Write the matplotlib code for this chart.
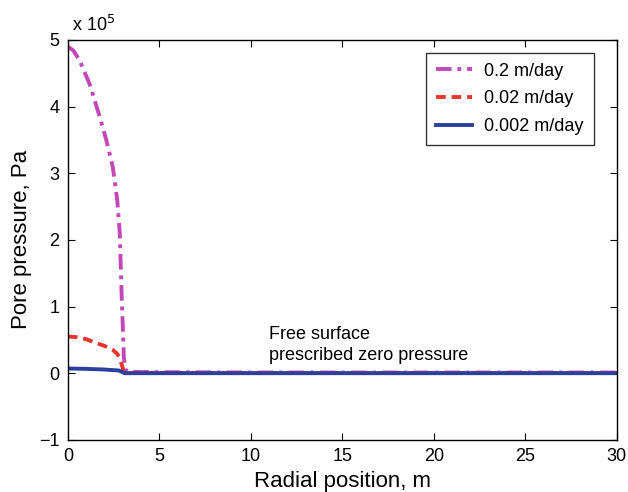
import matplotlib
matplotlib.use("Agg")
import matplotlib.pyplot as plt
import numpy as np

plt.rcParams['font.family'] = ['Liberation Sans', 'DejaVu Sans']

# Radial position (m) and pore pressure (Pa)
r_fast = [0.0, 0.3, 0.65, 1.2, 1.75, 2.1, 2.46, 2.7, 2.84, 2.95, 3.02, 3.06, 3.15, 3.3, 5, 10, 15, 20, 25, 30]
p_fast = [4.90e5, 4.84e5, 4.69e5, 4.33e5, 3.84e5, 3.5e5, 3.09e5, 2.6e5, 2.1e5, 1.1e5, 0.6e5, 0.24e5, 0.05e5, 0.02e5, 0.015e5, 0.01e5, 0.01e5, 0.01e5, 0.01e5, 0.01e5]

r_mid = [0.0, 0.5, 1.0, 1.58, 2.0, 2.46, 2.7, 2.84, 3.0, 3.1, 5, 10, 15, 20, 25, 30]
p_mid = [0.55e5, 0.54e5, 0.51e5, 0.45e5, 0.41e5, 0.35e5, 0.29e5, 0.22e5, 0.08e5, 0.005e5, 0.003e5, 0.002e5, 0.002e5, 0.002e5, 0.002e5, 0.002e5]

r_slow = [0.0, 1.0, 2.0, 2.8, 3.1, 5, 10, 15, 20, 25, 30]
p_slow = [0.07e5, 0.065e5, 0.055e5, 0.04e5, 0.0, 0.0, 0.0, 0.0, 0.0, 0.0, 0.0]

labels = ['0.2 m/day', '0.02 m/day', '0.002 m/day']
scale = 1e5

fig = plt.figure(figsize=(6.28, 4.92), dpi=100)
ax = fig.add_axes([0.108, 0.106, 0.874, 0.813])

ax.plot(r_fast, np.array(p_fast) / scale, color='#c447b8', lw=2.8, dashes=(4, 1.5, 1, 1.5), label=labels[0])
ax.plot(r_mid, np.array(p_mid) / scale, color='#e8352a', lw=2.8, dashes=(2.5, 1.5), label=labels[1])
ax.plot(r_slow, np.array(p_slow) / scale, color='#2b3f9e', lw=2.8, label=labels[2])

ax.set_xlim(0, 30)
ax.set_ylim(-1, 5)
ax.set_xticks(range(0, 31, 5))
ax.set_yticks(range(-1, 6))
ax.tick_params(direction='in', top=True, right=True, labelsize=13, length=5, width=0.8, pad=6)
for s in ax.spines.values():
    s.set_linewidth(1.0)

ax.set_xlabel('Radial position, m', fontsize=16, labelpad=4)
ax.set_ylabel('Pore pressure, Pa', fontsize=16, labelpad=5)

ax.text(0.007, 1.012, r'x 10$^5$', transform=ax.transAxes, fontsize=13, ha='left', va='bottom')

ax.text(11.0, 0.58, 'Free surface', fontsize=13, ha='left', va='center')
ax.text(11.0, 0.27, 'prescribed zero pressure', fontsize=13, ha='left', va='center')

leg = ax.legend(loc='upper right', bbox_to_anchor=(0.958, 0.968), borderaxespad=0, fontsize=13, frameon=True,
                fancybox=False, edgecolor='black', handlelength=2.0, handletextpad=0.7,
                borderpad=0.55, labelspacing=0.6)
leg.get_frame().set_linewidth(1.0)

fig.savefig('out.png', dpi=100)
